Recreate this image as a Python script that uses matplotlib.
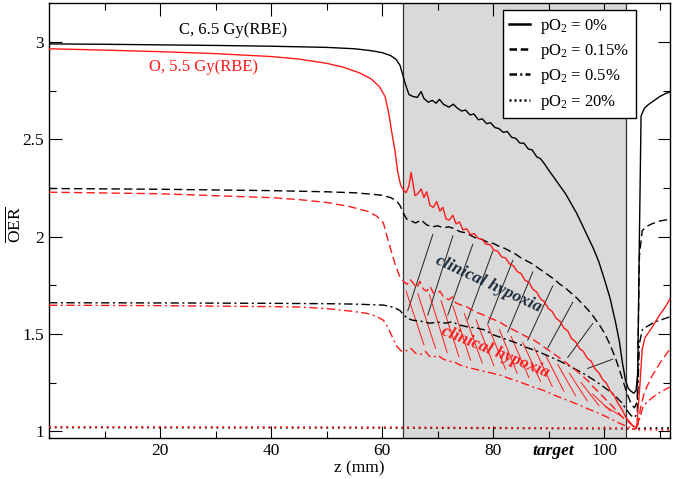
import matplotlib
matplotlib.use("Agg")
import matplotlib.pyplot as plt
import numpy as np
from matplotlib.lines import Line2D
from matplotlib.ticker import FuncFormatter, FixedLocator

plt.rcParams['font.family'] = ['Liberation Serif', 'DejaVu Serif']
plt.rcParams['mathtext.fontset'] = 'custom'
plt.rcParams['mathtext.rm'] = 'Liberation Serif'
plt.rcParams['mathtext.it'] = 'Liberation Serif:italic'
plt.rcParams['mathtext.bf'] = 'Liberation Serif:bold'

# ---------------- data ----------------
target_start, target_end = 63.8, 103.9

c0_x = [0, 10, 20, 30, 40, 50, 55, 58, 60, 61.5, 62.5, 63.2, 63.7, 64.2, 64.8, 65.5, 66.3, 67.0, 67.5,
        68.3, 69.0, 69.7, 70.3, 71.0, 72.0, 72.8, 73.5, 74.3, 75.0, 75.8, 76.5, 77.3, 78.0, 78.8, 79.5,
        80.3, 81.0, 81.8, 82.5, 83.3, 84.0, 84.8, 85.5, 86.3, 87.0, 87.8, 88.5, 89.3, 90.0, 91.0, 92.0,
        93.0, 94.0, 95.0, 96.0, 97.0, 98.0, 99.0, 100.0, 101.0, 102.0, 102.7, 103.2, 103.8, 104.3, 104.8,
        105.3, 105.7, 106.0, 106.3, 106.6, 107.2, 108, 109, 110, 111, 112]
c0_y = [2.99, 2.988, 2.985, 2.982, 2.978, 2.972, 2.965, 2.955, 2.945, 2.93, 2.91, 2.88, 2.83, 2.78, 2.73,
        2.72, 2.715, 2.745, 2.71, 2.69, 2.70, 2.685, 2.705, 2.68, 2.665, 2.68, 2.66, 2.645, 2.65, 2.625,
        2.63, 2.60, 2.605, 2.58, 2.585, 2.56, 2.555, 2.535, 2.54, 2.51, 2.505, 2.48, 2.48, 2.45, 2.445,
        2.41, 2.40, 2.37, 2.34, 2.30, 2.26, 2.22, 2.17, 2.12, 2.06, 2.00, 1.94, 1.87, 1.78, 1.685, 1.56,
        1.46, 1.36, 1.26, 1.22, 1.205, 1.195, 1.21, 1.30, 2.0, 2.62, 2.66, 2.68, 2.70, 2.72, 2.735, 2.745]

o0_x = [0, 10, 20, 30, 40, 45, 50, 53, 56, 58, 59.5, 60.5, 61.2, 61.8, 62.3, 62.8, 63.3, 63.8, 64.3, 64.8,
        65.2, 65.9, 66.4, 67.0, 67.5, 68.0, 68.6, 69.2, 69.8, 70.4, 70.9, 71.5, 72.1, 72.7, 73.3, 73.9,
        74.5, 75.2, 75.9, 76.6, 77.3, 78.0, 78.7, 79.4, 80.1, 80.8, 81.5, 82.2, 82.9, 83.6, 84.3, 85.0,
        85.7, 86.4, 87.1, 87.8, 88.5, 89.2, 89.9, 90.6, 91.3, 92.0, 92.7, 93.4, 94.1, 94.8, 95.5, 96.2,
        96.9, 97.6, 98.3, 99.0, 99.7, 100.4, 101.1, 101.8, 102.5, 103.2, 103.9, 104.6, 105.2, 105.8,
        106.3, 106.8, 107.3, 108.5, 110, 111, 112]
o0_y = [2.965, 2.958, 2.95, 2.94, 2.925, 2.912, 2.89, 2.87, 2.84, 2.81, 2.77, 2.72, 2.63, 2.52, 2.44,
        2.33, 2.265, 2.24, 2.225, 2.26, 2.33, 2.21, 2.22, 2.245, 2.20, 2.23, 2.16, 2.15, 2.18, 2.13, 2.15,
        2.09, 2.085, 2.11, 2.065, 2.075, 2.035, 2.04, 2.01, 2.015, 1.99, 1.985, 1.96, 1.96, 1.93, 1.925,
        1.895, 1.89, 1.86, 1.85, 1.82, 1.81, 1.775, 1.765, 1.73, 1.715, 1.68, 1.665, 1.63, 1.615, 1.58,
        1.565, 1.53, 1.515, 1.475, 1.46, 1.425, 1.41, 1.375, 1.36, 1.32, 1.30, 1.265, 1.245, 1.205, 1.18,
        1.14, 1.11, 1.07, 1.045, 1.025, 1.02, 1.2, 1.42, 1.48, 1.53, 1.60, 1.64, 1.69]

c015_x = [0, 20, 40, 50, 55, 58, 60, 61.5, 62.5, 63.2, 63.8, 64.4, 65.2, 66, 67, 68, 69, 70, 71, 72, 73,
          74, 75, 76, 77, 78, 79, 80, 81, 82, 83, 84, 85, 86, 87, 88, 89, 90, 91, 92, 93, 94, 95, 96, 97,
          98, 99, 100, 101, 102, 103, 104, 104.8, 105.4, 105.9, 106.3, 106.8, 107.5, 108.5, 110, 112]
c015_y = [2.247, 2.243, 2.236, 2.23, 2.225, 2.218, 2.212, 2.20, 2.185, 2.16, 2.12, 2.09, 2.08, 2.07,
          2.085, 2.06, 2.05, 2.055, 2.045, 2.05, 2.04, 2.025, 2.02, 2.005, 1.99, 1.985, 1.97, 1.965, 1.95,
          1.94, 1.925, 1.91, 1.89, 1.875, 1.86, 1.84, 1.82, 1.80, 1.78, 1.755, 1.735, 1.71, 1.685, 1.655,
          1.625, 1.59, 1.55, 1.505, 1.445, 1.375, 1.29, 1.20, 1.14, 1.12, 1.15, 1.9, 2.03, 2.05, 2.065,
          2.08, 2.09]

o015_x = [0, 20, 40, 45, 50, 54, 57.3, 59, 60.2, 61.2, 62.3, 63.2, 64.0, 64.5, 65, 65.6, 66.2, 66.8,
          67.4, 68, 68.6, 69.2, 69.8, 70.4, 71, 72, 72.6, 73.2, 74, 75.2, 76, 77, 78, 79, 80, 81.2, 82,
          83, 84, 85, 86, 87.2, 88, 89, 90, 91, 92, 93.2, 94, 95, 96, 97, 98, 99, 100, 101, 101.6, 102.5,
          103.3, 104, 104.8, 105.5, 106, 106.5, 107.2, 108.5, 110, 111, 112]
o015_y = [2.228, 2.22, 2.20, 2.19, 2.175, 2.155, 2.13, 2.105, 2.07, 1.965, 1.86, 1.79, 1.765, 1.755,
          1.78, 1.76, 1.735, 1.77, 1.73, 1.72, 1.745, 1.71, 1.705, 1.72, 1.69, 1.675, 1.69, 1.66, 1.65,
          1.64, 1.625, 1.61, 1.60, 1.585, 1.575, 1.56, 1.545, 1.53, 1.515, 1.50, 1.485, 1.47, 1.455, 1.435,
          1.415, 1.395, 1.375, 1.35, 1.33, 1.31, 1.285, 1.26, 1.227, 1.20, 1.17, 1.14, 1.124, 1.095, 1.07,
          1.055, 1.035, 1.02, 1.03, 1.12, 1.2, 1.28, 1.35, 1.39, 1.43]

c05_x = [0, 20, 40, 50, 55, 58, 60.2, 61.5, 62.5, 63.2, 63.8, 64.5, 65.5, 67, 68.5, 70, 71.5, 72.5, 74,
         75.5, 77, 78.5, 80, 82, 84, 86, 88, 90, 92, 94, 96, 98, 100, 101.6, 103, 104, 104.8, 105.4,
         105.9, 106.3, 106.8, 107.5, 109, 110.5, 112]
c05_y = [1.66, 1.659, 1.657, 1.655, 1.653, 1.65, 1.648, 1.64, 1.63, 1.62, 1.60, 1.58, 1.57, 1.565,
         1.555, 1.56, 1.555, 1.562, 1.545, 1.535, 1.53, 1.52, 1.495, 1.475, 1.455, 1.43, 1.41, 1.385,
         1.36, 1.33, 1.30, 1.265, 1.225, 1.19, 1.15, 1.11, 1.08, 1.07, 1.09, 1.45, 1.52, 1.535, 1.56,
         1.575, 1.59]

o05_x = [0, 20, 40, 45.2, 50, 54, 57.3, 59, 60.2, 61, 61.8, 62.7, 63.5, 64.5, 65.2, 66, 67, 67.8, 68.5,
         69.2, 70, 71, 72, 73, 74, 75.2, 76.5, 78, 79.5, 81.2, 83, 85, 87.2, 89, 91, 93.2, 95, 97, 99.2,
         101, 102.8, 104, 105, 105.7, 106.3, 107, 108.5, 110, 112]
o05_y = [1.647, 1.645, 1.64, 1.638, 1.63, 1.618, 1.605, 1.59, 1.57, 1.535, 1.485, 1.433, 1.41, 1.415,
         1.425, 1.40, 1.395, 1.41, 1.385, 1.38, 1.39, 1.37, 1.36, 1.355, 1.34, 1.33, 1.32, 1.31, 1.30,
         1.288, 1.27, 1.25, 1.227, 1.21, 1.185, 1.16, 1.14, 1.115, 1.09, 1.065, 1.04, 1.025, 1.015, 1.012,
         1.06, 1.13, 1.17, 1.2, 1.23]

c20_x = [0, 64, 104, 105.5, 106.5, 112]
c20_y = [1.019, 1.017, 1.013, 1.01, 1.015, 1.017]
o20_x = [0, 64, 104, 105.5, 106.5, 112]
o20_y = [1.022, 1.02, 1.015, 1.01, 1.008, 1.006]

hatch_black_x = [64.6, 68.2, 71.8, 75.4, 79.0, 82.6, 86.2, 89.8, 93.4, 97.0]
hatch_red_x = [64.3, 66.4, 68.5, 70.6, 72.7, 74.8, 76.9, 79.0, 81.1, 83.2, 85.3, 87.4, 89.5, 91.6,
               93.7, 95.8, 97.9, 100.0]

legend_labels = ['pO$_2$ = 0%', 'pO$_2$ = 0.15%', 'pO$_2$ = 0.5%', 'pO$_2$ = 20%']

# ---------------- styles ----------------
RED = '#ff1a1a'
LS_DASH = (0, (6, 3))
LS_DASHDOT = (0, (6, 2.5, 1.5, 2.5))
LS_DOT = (0, (1.0, 2.2))

fig = plt.figure(figsize=(6.74, 4.79), dpi=100)
ax = fig.add_axes([0.0727, 0.0856, 0.9213, 0.9081])

ax.axvspan(target_start, target_end, color='#d9d9d9', zorder=0, lw=0)
ax.axvline(target_start, color='#333333', lw=0.9, zorder=1)
ax.axvline(target_end, color='#333333', lw=0.9, zorder=1)

lw = 1.0
ax.plot(c0_x, c0_y, color='black', lw=lw, ls='-', zorder=3)
ax.plot(c015_x, c015_y, color='black', lw=lw, ls=LS_DASH, zorder=3)
ax.plot(c05_x, c05_y, color='black', lw=lw, ls=LS_DASHDOT, zorder=3)
ax.plot(c20_x, c20_y, color='black', lw=1.3, ls=LS_DOT, zorder=3)
ax.plot(o0_x, o0_y, color=RED, lw=lw, ls='-', zorder=4)
ax.plot(o015_x, o015_y, color=RED, lw=lw, ls=LS_DASH, zorder=4)
ax.plot(o05_x, o05_y, color=RED, lw=lw, ls=LS_DASHDOT, zorder=4)
ax.plot(o20_x, o20_y, color=RED, lw=1.3, ls=LS_DOT, zorder=4)

# hatch lines (clinical hypoxia regions), built from the curves
gap = 0.04
for x0 in hatch_black_x:
    x1 = x0 + 4.5
    ylo = np.interp(x0, c05_x, c05_y) + gap
    yhi = np.interp(x1, c015_x, c015_y) - gap
    if yhi > ylo:
        ax.plot([x0, x1], [ylo, yhi], color='#222222', lw=0.7, zorder=2)
for x0 in hatch_red_x:
    x1 = x0 + 3.2
    yhi = np.interp(x0, o015_x, o015_y) - gap
    ylo = np.interp(x1, o05_x, o05_y) + gap
    if yhi > ylo:
        ax.plot([x0, x1], [yhi, ylo], color=RED, lw=0.7, zorder=2)

ax.text(79.1, 1.755, 'clinical hypoxia', rotation=-25, ha='center', va='center', fontsize=12.5,
        fontstyle='italic', fontweight='bold', color='#1a2a3a', zorder=5,
        rotation_mode='anchor')
ax.text(80.3, 1.405, 'clinical hypoxia', rotation=-22, ha='center', va='center', fontsize=12.5,
        fontstyle='italic', fontweight='bold', color=RED, zorder=5, rotation_mode='anchor')

ax.text(33.2, 3.063, 'C, 6.5 Gy(RBE)', ha='center', va='center', fontsize=12, color='black')
ax.text(27.8, 2.873, 'O, 5.5 Gy(RBE)', ha='center', va='center', fontsize=12, color=RED)

ax.set_xlim(0, 111.8)
ax.set_ylim(0.965, 3.2)

ax.xaxis.set_major_locator(FixedLocator([20, 40, 60, 80, 100]))
ax.xaxis.set_minor_locator(FixedLocator([10, 30, 50, 70, 90, 110]))
ax.yaxis.set_major_locator(FixedLocator([1, 1.5, 2, 2.5, 3]))
ax.yaxis.set_minor_locator(FixedLocator([1.25, 1.75, 2.25, 2.75]))
ax.yaxis.set_major_formatter(FuncFormatter(lambda v, p: '%g' % v))
ax.tick_params(which='both', direction='in', top=True, right=True, labelsize=12.5, width=0.8)
ax.tick_params(which='major', length=9)
ax.tick_params(which='minor', length=4.7)
for s in ax.spines.values():
    s.set_linewidth(1.0)

ax.set_xlabel('z (mm)', fontsize=12.5, labelpad=1)
ax.set_ylabel(r'$\overline{\mathrm{OER}}$', fontsize=12.5)
ax.yaxis.set_label_coords(-0.04, 0.49)

ax.annotate('target', xy=(90.8, 0), xycoords=('data', 'axes fraction'), xytext=(0, -3.5),
            textcoords='offset points', ha='center', va='top', fontsize=12.5,
            fontstyle='italic', fontweight='bold')

handles = [Line2D([], [], color='black', lw=1.8, ls='-'),
           Line2D([], [], color='black', lw=1.8, ls=(0, (3, 1.5))),
           Line2D([], [], color='black', lw=1.8, ls=(0, (3, 1.3, 0.8, 1.3))),
           Line2D([], [], color='black', lw=1.8, ls=(0, (0.8, 1.2)))]
leg = ax.legend(handles, legend_labels, loc='upper right', bbox_to_anchor=(0.945, 0.984),
                fontsize=12, frameon=True, fancybox=False, edgecolor='black', framealpha=1,
                handlelength=1.25, handletextpad=0.6, labelspacing=0.38, borderpad=0.4,
                borderaxespad=0)
leg.get_frame().set_linewidth(1.0)
leg.set_zorder(6)

fig.savefig('out.png', dpi=100)
